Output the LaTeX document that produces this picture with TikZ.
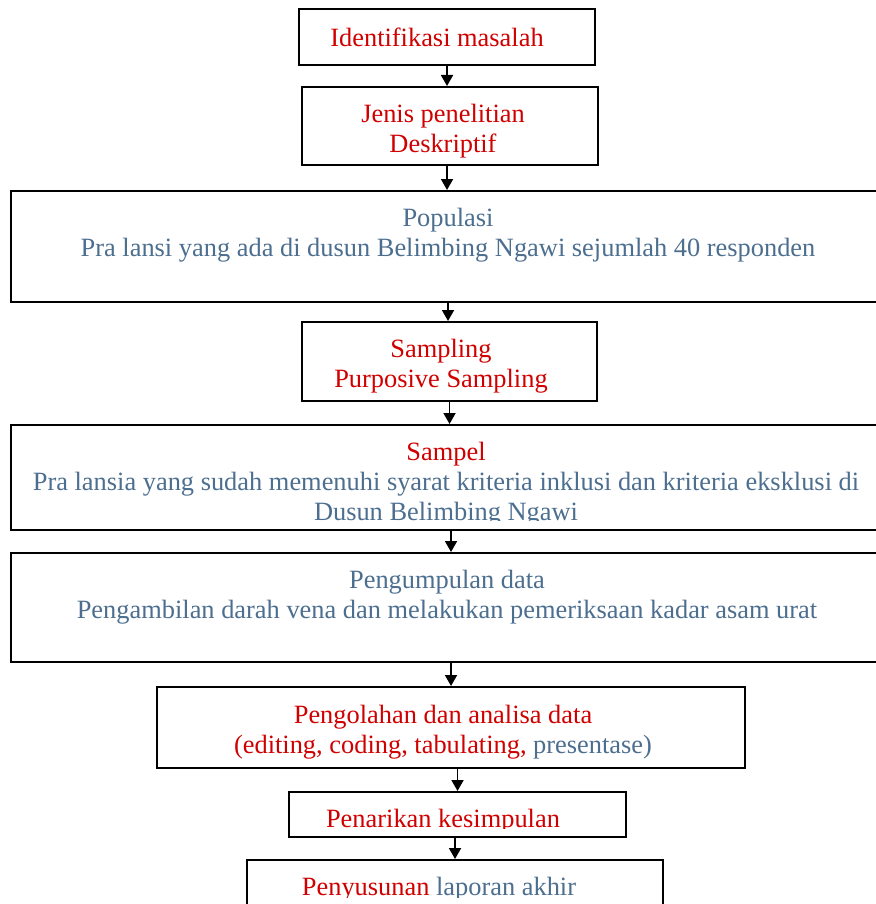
\documentclass[tikz,border=0pt]{standalone}
\usepackage{fontspec}
\setmainfont{Liberation Serif}
\usetikzlibrary{positioning,arrows.meta}
\definecolor{flowred}{RGB}{208,0,0}
\definecolor{steelgrey}{RGB}{76,110,143}

\begin{document}
\begin{tikzpicture}[
  x=0.5pt, y=-0.5pt,
  box/.style={draw=black, line width=1pt, rectangle, inner sep=0pt},
  txt/.style={align=center, inner sep=0pt, font=\fontsize{13.2}{15}\selectfont},
  arr/.style={-{Triangle[length=5.5pt,width=6pt]}, line width=0.9pt, black}
]
\useasboundingbox (0,0) rectangle (875,904);

\node[box, minimum width=148pt, minimum height=28pt] (iden) at (447,37) {};
\node[box, minimum width=148pt, minimum height=39pt] (jenis) at (450,126) {};
\node[box, minimum width=437pt, minimum height=55.5pt] (pop) at (448,246.5) {};
\node[box, minimum width=147.5pt, minimum height=39.5pt] (samp) at (449.5,361.5) {};
\node[box, minimum width=437pt, minimum height=52.5pt] (sampel) at (448,477.5) {};
\node[box, minimum width=437pt, minimum height=54.5pt] (kumpul) at (448,607.5) {};
\node[box, minimum width=294pt, minimum height=40.5pt] (olah) at (451,727.5) {};
\node[box, minimum width=168.5pt, minimum height=22.5pt] (tarik) at (457.5,814.5) {};
\node[box, minimum width=208pt, minimum height=40pt] (susun) at (455,900) {};

% texts
\node[txt, text=flowred] (idenT) at (437,37) {Identifikasi masalah};
\node[txt, text=flowred] (jenisT) at (443,131) {Jenis penelitian\\ Deskriptif};
\node[txt, text=steelgrey] (popT) at (448,235) {Populasi\\Pra lansi yang ada di dusun Belimbing Ngawi sejumlah 40 responden};
\node[txt, text=flowred] (sampT) at (441,366) {Sampling\\ Purposive Sampling};
\begin{scope}
  \clip (11,425) rectangle (875,520);
  \node[txt, text=steelgrey] (sampelT) at (446,484.5) {\textcolor{flowred}{Sampel}\\Pra lansia yang sudah memenuhi syarat kriteria inklusi dan kriteria eksklusi di\\Dusun Belimbing Ngawi};
\end{scope}
\node[txt, text=steelgrey] (kumpulT) at (447,597) {Pengumpulan data\\Pengambilan darah vena dan melakukan pemeriksaan kadar asam urat};
\node[txt, text=flowred] (olahT) at (443,732) {Pengolahan dan analisa data\\(editing, coding, tabulating, \textcolor{steelgrey}{presentase)}};
\begin{scope}
  \clip (289,792) rectangle (626,828);
  \node[txt, text=flowred] (tarikT) at (443,821) {Penarikan kesimpulan};
\end{scope}
\begin{scope}
  \clip (247,860) rectangle (663,897);
  \node[txt, text=flowred] (susunT) at (439,889) {Penyusunan \textcolor{steelgrey}{laporan akhir}};
\end{scope}

% arrows
\draw[arr] (iden.south) -- (iden.south |- jenis.north);
\draw[arr] (jenis.south -| iden.south) -- (iden.south |- pop.north);
\draw[arr] (pop.south) -- (pop.south |- samp.north);
\draw[arr] (samp.south) -- (samp.south |- sampel.north);
\draw[arr] (sampel.south -| olah.north) -- (olah.north |- kumpul.north);
\draw[arr] (kumpul.south -| olah.north) -- (olah.north);
\draw[arr] (olah.south -| tarik.north) -- (tarik.north);
\draw[arr] (tarik.south -| susun.north) -- (susun.north);
\end{tikzpicture}
\end{document}
